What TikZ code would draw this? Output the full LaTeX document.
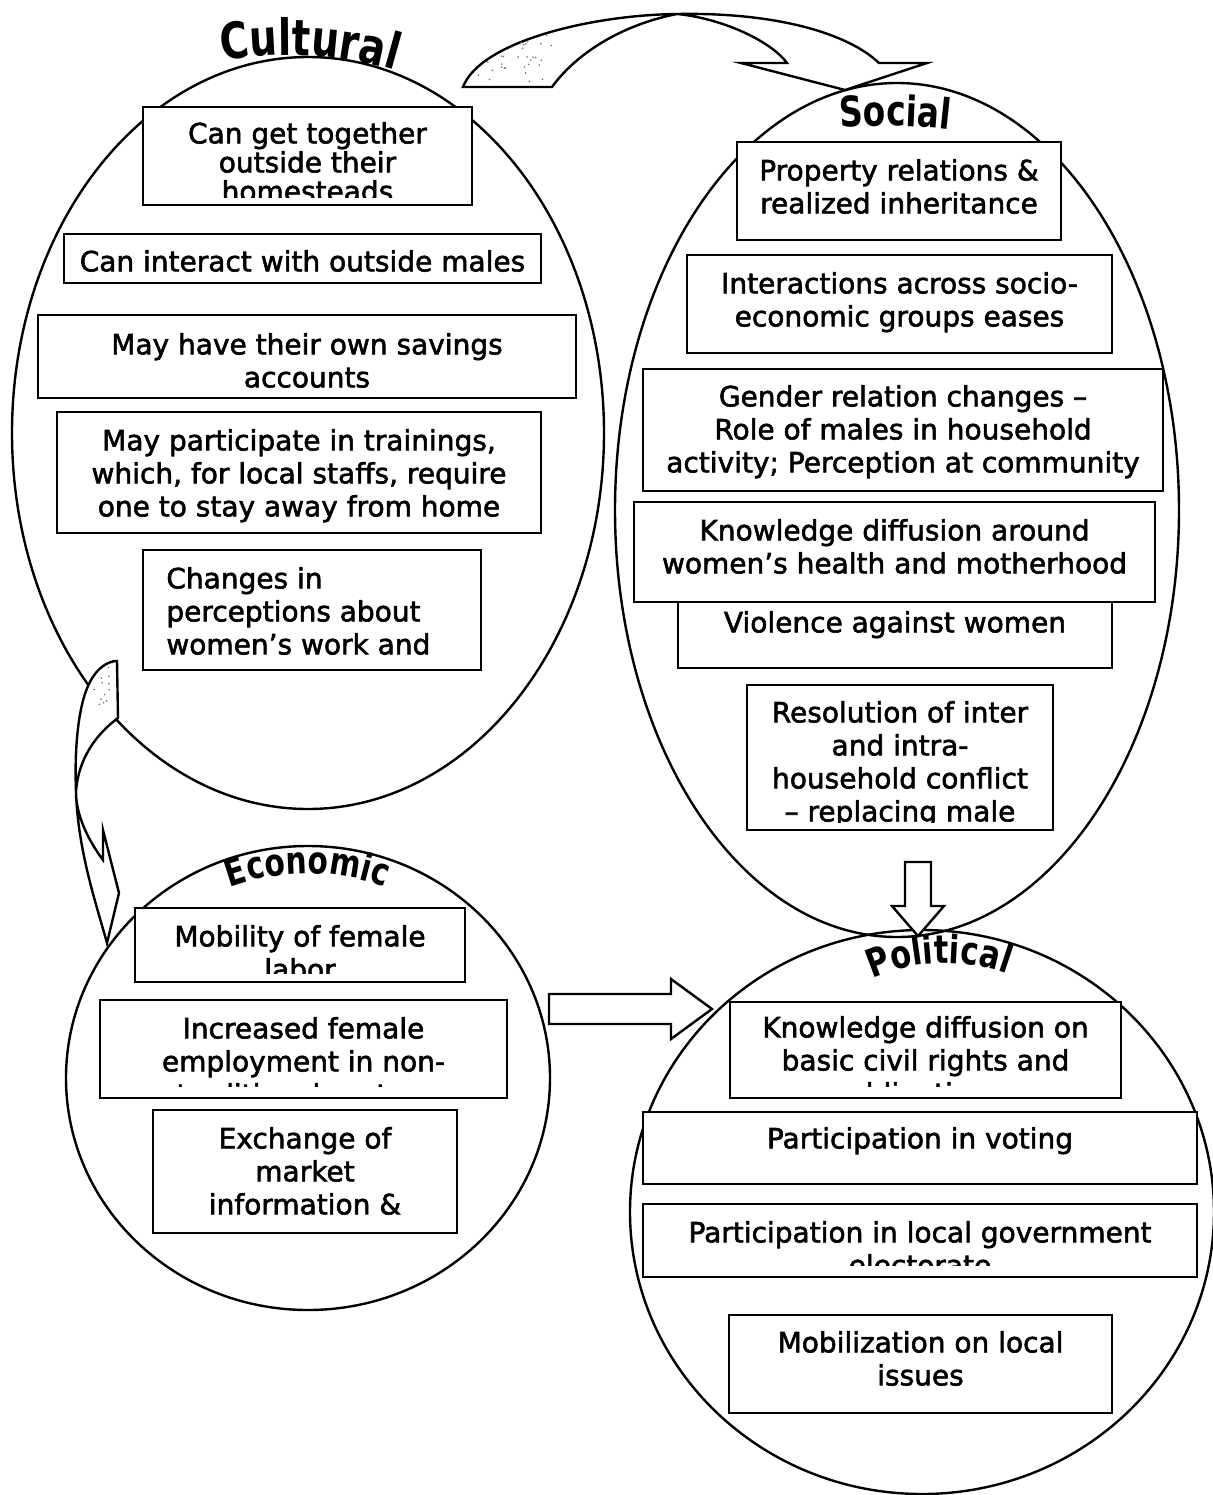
\documentclass[tikz,border=0pt]{standalone}
\usepackage{fontspec}
\setmainfont{DejaVu Sans}[FakeBold=2]
\newfontfamily\ttlfont{DejaVu Sans}[FakeStretch=0.78]
\usetikzlibrary{shapes.geometric,decorations.text}

\tikzset{
  oval/.style={draw, line width=1.2pt, ellipse, inner sep=0pt},
  frame/.style={draw, line width=1.25pt, fill=white, rectangle, inner sep=0pt},
  boxtext/.style={inner sep=0pt, font=\fontsize{14}{16.5}\selectfont},
  blockarrow/.style={draw, line width=1.2pt, fill=white, line join=miter},
  speck/.style={fill=black!55},
}

% framed statement: [first baseline offset]{name}{x1}{y1}{x2}{y2}{clip bottom}{text}
\newcommand\tbox[8][37]{%
  \node[frame, minimum width={(#5-#3)*0.5pt}, minimum height={(#6-#4)*0.5pt}] (#2) at ({(#3+#5)/2},{(#4+#6)/2}) {};
  \begin{scope}
    \clip (#3,#4) rectangle (#5,#7);
    \node[boxtext, align=center, anchor=north] (#2-text) at ({(#3+#5)/2},{#4+#1-23.1}) {\strut#8};
  \end{scope}}
% same, with left-aligned lines starting at a given x
\newcommand\lbox[9][37]{%
  \node[frame, minimum width={(#5-#3)*0.5pt}, minimum height={(#6-#4)*0.5pt}] (#2) at ({(#3+#5)/2},{(#4+#6)/2}) {};
  \begin{scope}
    \clip (#3,#4) rectangle (#5,#7);
    \node[boxtext, align=left, anchor=north west] (#2-text) at (#8,{#4+#1-23.1}) {\strut#9};
  \end{scope}}
\newcommand\ttl[1]{\ttlfont\bfseries\fontsize{#1}{#1}\selectfont}

\begin{document}
\begin{tikzpicture}[x=0.5pt, y=-0.5pt]
\useasboundingbox (0,0) rectangle (1213,1495);
\fill[white] (0,0) rectangle (1213,1495);

% the four domains
\node[oval, minimum width=296pt, minimum height=376pt] (cultural) at (308,433) {};
\node[oval, minimum width=282pt, minimum height=427pt] (social) at (897,510) {};
\node[oval, minimum width=242pt, minimum height=232pt] (economic) at (308,1078) {};
\node[oval, minimum width=292pt, minimum height=282pt] (political) at (922,1212) {};

% curved arrow: cultural -> social
\draw[blockarrow] (463,87) .. controls (480,42) and (590,15) .. (677,14)
  .. controls (780,12) and (850,35) .. (879,63) -- (927,63) -- (845,90) -- (741,63) -- (787,63)
  .. controls (770,40) and (720,18) .. (677,14)
  .. controls (620,25) and (575,55) .. (552,87) -- cycle;
\begin{scope}
  \clip (463,87) .. controls (480,42) and (590,15) .. (677,14) .. controls (620,25) and (575,55) .. (552,87) -- cycle;
  \pgfmathsetseed{11}
  \foreach \k in {1,...,40}{
    \pgfmathsetmacro\sx{478+78*rnd}
    \pgfmathsetmacro\sy{32+52*rnd}
    \fill[speck] (\sx,\sy) circle[radius=0.9];
  }
\end{scope}

% curved arrow: cultural -> economic
\draw[blockarrow] (117,661) -- (118,718) .. controls (95,735) and (78,760) .. (76,792)
  .. controls (76,815) and (88,840) .. (103,860) -- (103,830) -- (119,893) -- (107,943)
  .. controls (95,900) and (78,850) .. (76,792) .. controls (74,740) and (80,700) .. (90,682)
  .. controls (97,668) and (108,661) .. (117,661) -- cycle;
\begin{scope}
  \clip (90,682) .. controls (97,668) and (108,661) .. (117,661) -- (118,718) -- (95,720) -- cycle;
  \pgfmathsetseed{5}
  \foreach \k in {1,...,14}{
    \pgfmathsetmacro\sx{92+24*rnd}
    \pgfmathsetmacro\sy{666+40*rnd}
    \fill[speck] (\sx,\sy) circle[radius=0.9];
  }
\end{scope}

% block arrows: economic -> political, social -> political
\draw[blockarrow] (549,994) -- (671,994) -- (671,979) -- (712,1009) -- (671,1039) -- (671,1024) -- (549,1024) -- cycle;
\draw[blockarrow] (905,862) -- (931,862) -- (931,906) -- (944,906) -- (918,936) -- (892,906) -- (905,906) -- cycle;

% cultural
\tbox[36]{c1}{143}{107}{472}{205}{197}{Can get together\\[-2pt]outside their\\[-2pt]homesteads}
\tbox{c2}{64}{234}{541}{283}{280}{Can interact with outside males}
\tbox[39]{c3}{38}{315}{576}{398}{395}{May have their own savings\\accounts}
\tbox[38]{c4}{57}{412}{541}{533}{530}{May participate in trainings,\\which, for local staffs, require\\one to stay away from home}
\lbox[38]{c5}{143}{550}{481}{670}{667}{166}{Changes in\\perceptions about\\women’s work and}

% social
\tbox[38]{s1}{737}{142}{1061}{240}{237}{Property relations \&\\realized inheritance}
\tbox[38]{s2}{687}{255}{1112}{353}{350}{Interactions across socio-\\economic groups eases}
\tbox{s3}{643}{369}{1163}{491}{488}{Gender relation changes –\\Role of males in household\\activity; Perception at community}
\tbox{s5}{678}{595}{1112}{668}{665}{Violence against women}
\tbox[38]{s4}{634}{502}{1155}{602}{599}{Knowledge diffusion around\\women’s health and motherhood}
\tbox{s6}{747}{685}{1053}{830}{822}{Resolution of inter\\and intra-\\household conflict\\– replacing male}

% economic
\tbox[38]{e1}{135}{908}{465}{982}{973}{Mobility of female\\labor}
\tbox[38]{e2}{100}{1000}{507}{1098}{1086}{Increased female\\employment in non-\\traditional sectors}
\tbox[38]{e3}{153}{1110}{457}{1233}{1230}{Exchange of\\market\\information \&}

% political
\tbox[35]{p1}{730}{1002}{1121}{1098}{1086}{Knowledge diffusion on\\basic civil rights and\\obligations}
\tbox[36]{p2}{643}{1112}{1197}{1184}{1181}{Participation in voting}
\tbox[38]{p3}{643}{1204}{1197}{1277}{1265}{Participation in local government\\electorate}
\tbox[37]{p4}{729}{1315}{1112}{1413}{1410}{Mobilization on local\\issues}

% arched titles
{\ttl{25}\path[decorate, decoration={text along path, text align=center, text={Cultural}}]
  (205,64) .. controls (270,50) and (345,52) .. (412,76);}
{\ttl{21}\path[decorate, decoration={text along path, text align=center, text={Social}}]
  (820,130) .. controls (870,124) and (915,124) .. (970,132);}
{\ttl{19}\path[decorate, decoration={text along path, text align=center, text={Economic}}]
  (210,896) .. controls (270,866) and (345,866) .. (405,896);}
{\ttl{19.5}\path[decorate, decoration={text along path, text align=center, text={Political}}]
  (855,988) .. controls (905,956) and (975,956) .. (1025,982);}
\end{tikzpicture}
\end{document}
